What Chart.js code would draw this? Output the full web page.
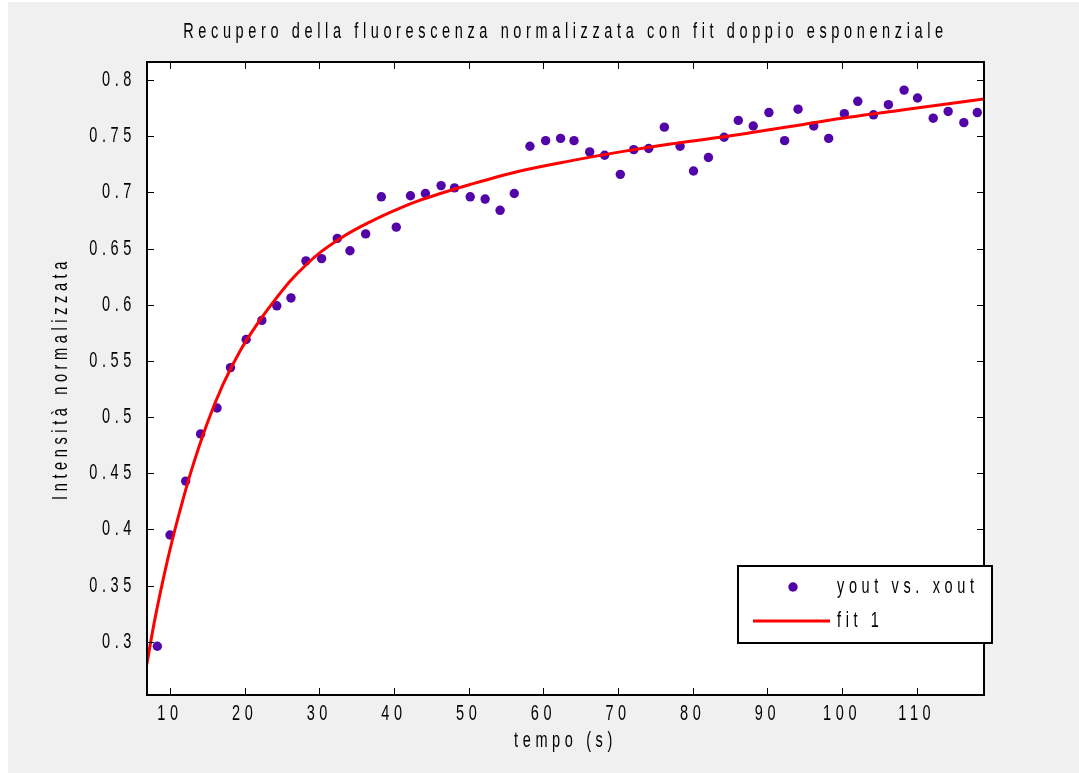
<!DOCTYPE html>
<html>
<head>
<meta charset="utf-8">
<script src="https://cdn.jsdelivr.net/npm/chart.js@4.4.1/dist/chart.umd.min.js"></script>
<style>
  html, body { margin: 0; padding: 0; background: #fff; }
  #wrap { position: absolute; left: 8px; top: 2px; width: 1071px; height: 771px; }
</style>
</head>
<body>
<div id="wrap"><canvas id="chart" width="1071" height="771"></canvas></div>
<script>
// misure (tempo in s, intensità normalizzata)
const xout = [8.3, 10.0, 12.1, 14.1, 16.3, 18.1, 20.2, 22.3, 24.3, 26.2, 28.2, 30.3, 32.4, 34.1,
  36.2, 38.3, 40.3, 42.2, 44.2, 46.3, 48.1, 50.2, 52.2, 54.2, 56.1, 58.2, 60.3, 62.3, 64.1, 66.2,
  68.2, 70.3, 72.1, 74.1, 76.2, 78.3, 80.1, 82.1, 84.2, 86.1, 88.1, 90.2, 92.3, 94.1, 96.2, 98.2,
  100.3, 102.1, 104.2, 106.2, 108.3, 110.1, 112.2, 114.2, 116.3, 118.1];
const yout = [0.296, 0.395, 0.443, 0.485, 0.508, 0.544, 0.569, 0.586, 0.599, 0.606, 0.639, 0.641,
  0.659, 0.648, 0.663, 0.696, 0.669, 0.697, 0.699, 0.706, 0.704, 0.696, 0.694, 0.684, 0.699, 0.741,
  0.746, 0.748, 0.746, 0.736, 0.733, 0.716, 0.738, 0.739, 0.758, 0.741, 0.719, 0.731, 0.749, 0.764,
  0.759, 0.771, 0.746, 0.774, 0.759, 0.748, 0.770, 0.781, 0.769, 0.778, 0.791, 0.784, 0.766, 0.772,
  0.762, 0.771];

// curva del fit doppio esponenziale
const fitX = [6.9, 7.8, 9.1, 10.4, 11.8, 12.7, 14.9, 17.1, 19.4, 21.6, 23.8, 26.1, 28.3, 30.2,
  32.8, 35.4, 38.1, 40.8, 43.5, 46.2, 50.2, 56.9, 63.6, 70.3, 77.0, 83.7, 87.7, 94.4, 101.1,
  107.8, 114.5, 119.0];
const fitY = [0.280, 0.314, 0.356, 0.393, 0.428, 0.449, 0.493, 0.529, 0.559, 0.582, 0.602, 0.621,
  0.636, 0.647, 0.659, 0.669, 0.678, 0.686, 0.693, 0.699, 0.707, 0.719, 0.728, 0.736, 0.743,
  0.749, 0.753, 0.760, 0.767, 0.773, 0.779, 0.783];

const xTicks = [10, 20, 30, 40, 50, 60, 70, 80, 90, 100, 110];
const yTicks = [0.3, 0.35, 0.4, 0.45, 0.5, 0.55, 0.6, 0.65, 0.7, 0.75, 0.8];

const SPACING = '7px';   // spaziatura larga tra i caratteri
const SX = 0.66;         // caratteri stretti (compressione orizzontale)

Chart.defaults.font.family = "'Liberation Sans', Arial, sans-serif";
Chart.defaults.font.size = 22;
Chart.defaults.color = '#000';

// testo stretto e spaziato come nella figura originale
const narrowText = {
  id: 'narrowText',
  beforeInit(chart) {
    const ctx = chart.ctx;
    const fill = ctx.fillText.bind(ctx);
    const measure = ctx.measureText.bind(ctx);
    ctx.fillText = function (text, x, y, maxWidth) {
      ctx.save();
      ctx.translate(x, y);
      ctx.scale(SX, 1);
      if (maxWidth === undefined) fill(text, 0, 0);
      else fill(text, 0, 0, maxWidth / SX);
      ctx.restore();
    };
    ctx.measureText = function (text) {
      const m = measure(text);
      return {
        width: m.width * SX,
        actualBoundingBoxAscent: m.actualBoundingBoxAscent,
        actualBoundingBoxDescent: m.actualBoundingBoxDescent,
        actualBoundingBoxLeft: m.actualBoundingBoxLeft * SX,
        actualBoundingBoxRight: m.actualBoundingBoxRight * SX,
      };
    };
    ctx.letterSpacing = SPACING;
  },
  beforeLayout(chart) { chart.ctx.letterSpacing = SPACING; },
  beforeDraw(chart) { chart.ctx.letterSpacing = SPACING; },
};

const background = {
  id: 'background',
  beforeDraw(chart) {
    const { ctx, chartArea: a } = chart;
    ctx.save();
    ctx.fillStyle = '#f0f0f0';
    ctx.fillRect(0, 0, chart.width, chart.height);
    ctx.fillStyle = '#fff';
    ctx.fillRect(a.left, a.top, a.right - a.left, a.bottom - a.top);
    ctx.restore();
  },
};

// riquadro e tacche verso l'interno
const frame = {
  id: 'frame',
  afterDraw(chart) {
    const { ctx, chartArea: a, scales: { x, y } } = chart;
    const len = 7;
    ctx.save();
    ctx.strokeStyle = '#000';
    ctx.lineWidth = 1;
    ctx.beginPath();
    x.ticks.forEach(t => {
      const px = Math.round(x.getPixelForValue(t.value)) + 0.5;
      ctx.moveTo(px, a.bottom); ctx.lineTo(px, a.bottom - len);
      ctx.moveTo(px, a.top); ctx.lineTo(px, a.top + len);
    });
    y.ticks.forEach(t => {
      const py = Math.round(y.getPixelForValue(t.value)) + 0.5;
      ctx.moveTo(a.left, py); ctx.lineTo(a.left + len, py);
      ctx.moveTo(a.right, py); ctx.lineTo(a.right - len, py);
    });
    ctx.stroke();
    ctx.lineWidth = 2;
    ctx.strokeRect(a.left, a.top, a.right - a.left, a.bottom - a.top);
    ctx.restore();
  },
};

// legenda dentro il grafico, in basso a destra
const insetLegend = {
  id: 'insetLegend',
  afterDraw(chart) {
    const { ctx, chartArea: a } = chart;
    const right = a.right + 8, bottom = a.bottom - 52;
    const left = right - 254, top = bottom - 77;
    const pts = chart.data.datasets[0], fit = chart.data.datasets[1];
    ctx.save();
    ctx.fillStyle = '#fff';
    ctx.fillRect(left, top, right - left, bottom - top);
    ctx.strokeStyle = '#000';
    ctx.lineWidth = 2;
    ctx.strokeRect(left, top, right - left, bottom - top);

    ctx.fillStyle = pts.backgroundColor;
    ctx.beginPath();
    ctx.arc(left + 55, top + 21, 4.7, 0, Math.PI * 2);
    ctx.fill();

    ctx.strokeStyle = fit.borderColor;
    ctx.lineWidth = fit.borderWidth;
    ctx.beginPath();
    ctx.moveTo(left + 15, top + 55);
    ctx.lineTo(left + 92, top + 55);
    ctx.stroke();

    ctx.letterSpacing = SPACING;
    ctx.fillStyle = '#000';
    ctx.font = Chart.helpers.toFont(Chart.defaults.font).string;
    ctx.textBaseline = 'middle';
    ctx.textAlign = 'left';
    ctx.fillText(pts.label, left + 99, top + 21);
    ctx.fillText(fit.label, left + 99, top + 55);
    ctx.restore();
  },
};

new Chart(document.getElementById('chart'), {
  type: 'scatter',
  data: {
    datasets: [
      {
        label: 'yout vs. xout',
        data: xout.map((v, i) => ({ x: v, y: yout[i] })),
        backgroundColor: '#5204a8',
        borderColor: '#5204a8',
        pointRadius: 4.7,
        pointBorderWidth: 0,
        showLine: false,
        order: 2,
      },
      {
        type: 'line',
        label: 'fit 1',
        data: fitX.map((v, i) => ({ x: v, y: fitY[i] })),
        borderColor: '#ff0000',
        backgroundColor: '#ff0000',
        borderWidth: 3,
        pointRadius: 0,
        cubicInterpolationMode: 'monotone',
        fill: false,
        order: 1,
      },
    ],
  },
  options: {
    responsive: false,
    animation: false,
    events: [],
    layout: { padding: { left: 0, right: 95, top: 0, bottom: 0 } },
    plugins: {
      legend: { display: false },
      tooltip: { enabled: false },
      title: {
        display: true,
        fullSize: false,
        text: 'Recupero della fluorescenza normalizzata con fit doppio esponenziale',
        font: { size: 22, weight: 'normal', lineHeight: 1 },
        padding: { top: 18.5, bottom: 19.5 },
      },
    },
    scales: {
      x: {
        type: 'linear',
        min: 6.92,
        max: 119.0,
        afterBuildTicks: s => { s.ticks = xTicks.map(v => ({ value: v })); },
        afterFit: s => { s.height = 78; },
        grid: { display: false, drawTicks: false },
        border: { display: false },
        ticks: { padding: 6, maxRotation: 0, autoSkip: false, callback: v => String(v) },
        title: { display: true, text: 'tempo (s)', padding: { top: 0, bottom: 18.4 } },
      },
      y: {
        type: 'linear',
        min: 0.2526,
        max: 0.816,
        afterBuildTicks: s => { s.ticks = yTicks.map(v => ({ value: v })); },
        afterFit: s => { s.width = 139; },
        grid: { display: false, drawTicks: false },
        border: { display: false },
        ticks: { padding: 11, autoSkip: false, callback: v => String(v) },
        title: { display: true, text: 'Intensità normalizzata', padding: { top: 39.4, bottom: 0 } },
      },
    },
  },
  plugins: [narrowText, background, frame, insetLegend],
});
</script>
</body>
</html>
